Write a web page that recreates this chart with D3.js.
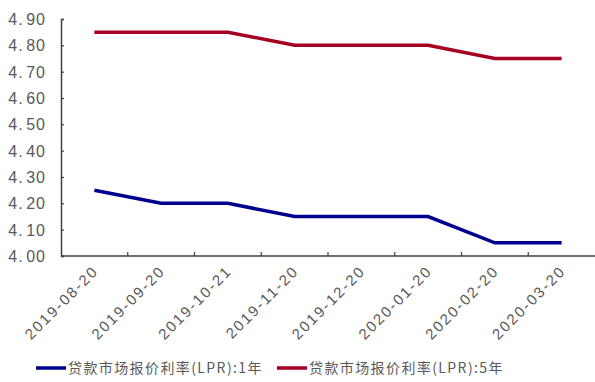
<!DOCTYPE html>
<html>
<head>
<meta charset="utf-8">
<script src="https://cdn.jsdelivr.net/npm/d3@7/dist/d3.min.js"></script>
<style>
  html, body { margin: 0; padding: 0; background: #fff; }
  svg { display: block; }
  text { fill: #595959; }
  .num { font-family: "Liberation Sans Narrow", "Liberation Sans", Arial, sans-serif; }
  .cjk { font-family: "Noto Sans CJK SC", "DejaVu Sans", sans-serif; }
</style>
</head>
<body>
<div id="chart"></div>
<script>
// LPR quotes by fixing date
const dates = ["2019-08-20", "2019-09-20", "2019-10-21", "2019-11-20", "2019-12-20", "2020-01-20", "2020-02-20", "2020-03-20"];
const lpr1y = [4.25, 4.20, 4.20, 4.15, 4.15, 4.15, 4.05, 4.05];
const lpr5y = [4.85, 4.85, 4.85, 4.80, 4.80, 4.80, 4.75, 4.75];
const yTicks = [4.00, 4.10, 4.20, 4.30, 4.40, 4.50, 4.60, 4.70, 4.80, 4.90];
const seriesNames = ["贷款市场报价利率(LPR):1年", "贷款市场报价利率(LPR):5年"];
const seriesColors = ["#00008f", "#a50021"];

const W = 595, H = 382;
const m = { left: 61, right: 0, top: 19, bottom: 126 };

const svg = d3.select("#chart").append("svg").attr("width", W).attr("height", H);

const x = d3.scaleBand().domain(dates).range([m.left, W - m.right]);
const y = d3.scaleLinear().domain([4.0, 4.9]).range([H - m.bottom, m.top]);
const fmt = d3.format(".2f");

// y axis, ticks pointing inward
const yAxis = svg.append("g").attr("transform", `translate(${m.left},0)`)
  .call(d3.axisLeft(y).tickValues(yTicks).tickSize(-3).tickPadding(15).tickFormat(fmt));
yAxis.select(".domain").attr("stroke", "#404040").attr("stroke-width", 1.5);
yAxis.selectAll(".tick line").attr("stroke", "#404040").attr("stroke-width", 1.2);
// split each label at the decimal point so the fraction sits a little apart
yAxis.selectAll(".tick text")
  .attr("class", "num").attr("font-size", 16).attr("fill", "#595959")
  .attr("letter-spacing", "1px").attr("dy", "0.35em")
  .each(function (d) {
    const s = fmt(d).split(".");
    const t = d3.select(this).text(null);
    t.append("tspan").text(s[0] + ".");
    t.append("tspan").attr("dx", 2.5).text(s[1]);
  });

// x axis with tick marks on the band edges
const xAxisG = svg.append("g").attr("transform", `translate(0,${y(4.0)})`);
xAxisG.append("line").attr("x1", m.left).attr("x2", W - m.right)
  .attr("stroke", "#404040").attr("stroke-width", 1.5);
xAxisG.selectAll("line.edge").data(dates.slice(1)).join("line")
  .attr("class", "edge")
  .attr("x1", d => x(d)).attr("x2", d => x(d))
  .attr("y1", 0).attr("y2", -4)
  .attr("stroke", "#404040").attr("stroke-width", 1.2);
xAxisG.selectAll("text").data(dates).join("text")
  .attr("class", "num")
  .attr("transform", d => `translate(${x(d) + x.bandwidth() / 2 + 5},${16}) rotate(-45)`)
  .attr("text-anchor", "end")
  .attr("font-size", 15)
  .attr("letter-spacing", "2px")
  .text(d => d);

// series lines
const line = d3.line().x((d, i) => x(dates[i]) + x.bandwidth() / 2).y(d => y(d));
[lpr1y, lpr5y].forEach((s, k) => {
  svg.append("path").datum(s)
    .attr("fill", "none")
    .attr("stroke", seriesColors[k])
    .attr("stroke-width", 3.5)
    .attr("d", line);
});

// legend
const legendPos = [36, 277];
seriesNames.forEach((name, k) => {
  const g = svg.append("g").attr("transform", `translate(${legendPos[k]},368)`);
  g.append("line").attr("x1", 0).attr("x2", 30).attr("y1", 0).attr("y2", 0)
    .attr("stroke", seriesColors[k]).attr("stroke-width", 3.5);
  g.append("text").attr("class", "cjk").attr("x", 32).attr("y", 5)
    .attr("font-size", 14).attr("letter-spacing", "1.4px").text(name);
});
</script>
</body>
</html>
